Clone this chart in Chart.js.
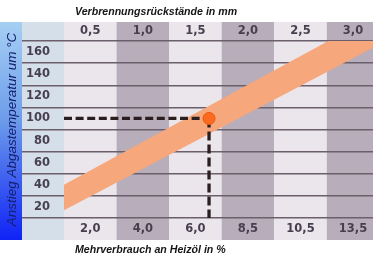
<!DOCTYPE html>
<html>
<head>
<meta charset="utf-8">
<script src="https://cdn.jsdelivr.net/npm/chart.js@4.4.1/dist/chart.umd.min.js"></script>
<style>
  html, body { margin: 0; padding: 0; background: #fff; }
  .div__grafico { width: 373px; height: 264px; }
</style>
</head>
<body>
<div class="div__grafico"><canvas id="grafico"></canvas></div>
<script>
// Spalten (oben: Rückstände in mm, unten: Mehrverbrauch in %)
const rueckstaende = ['0,5', '1,0', '1,5', '2,0', '2,5', '3,0']
const mehrverbrauch = ['2,0', '4,0', '6,0', '8,5', '10,5', '13,5']

// y-Achse: beschriftete Werte und Rasterlinien dazwischen
const temperaturTicks = [20, 40, 60, 80, 100, 120, 140, 160]
const rasterLinien = [10, 30, 50, 70, 90, 110, 130, 150, 170]

// Band: x = Spaltenposition (-0.5 = linker Rand der ersten Spalte)
const bandX = [-0.5, 5.38]
const bandOben = [40, 192]
const bandUnten = [17, 164]

const punktX = [2.26]
const punktY = [100]
const grundlinie = [10]

const farbeText = '#473f4f'
const farbeRaster = '#6a5f6a'
const fontTicks = { family: 'DejaVu Sans', weight: 'bold', size: 11.5 }

const hintergrund = {
  id: 'hintergrund',
  beforeDraw(chart) {
    const { ctx, chartArea, scales } = chart
    const top = chartArea.top - 19
    const bottom = chartArea.bottom + 22
    ctx.save()
    rueckstaende.forEach((_, i) => {
      const l = scales.x.getPixelForValue(i - 0.5)
      const r = Math.min(scales.x.getPixelForValue(i + 0.5), chart.width)
      ctx.fillStyle = i % 2 ? '#b8adba' : '#ebe6ec'
      ctx.fillRect(l, top, r - l, bottom - top)
    })
    ctx.fillStyle = '#d4dfea'
    ctx.fillRect(22, top, chartArea.left - 22, bottom - top)

    const grad = ctx.createLinearGradient(0, top, 0, bottom)
    grad.addColorStop(0, '#a6cff4')
    grad.addColorStop(0.45, '#6d9cea')
    grad.addColorStop(1, '#0f22f6')
    ctx.fillStyle = grad
    ctx.fillRect(0, top, 22, bottom - top)
    ctx.restore()
  },
  afterDraw(chart) {
    const { ctx, chartArea } = chart
    ctx.save()
    ctx.fillStyle = '#151515'
    ctx.font = 'italic bold 10.6px "Liberation Sans"'
    ctx.textAlign = 'left'
    ctx.textBaseline = 'middle'
    ctx.fillText('Verbrennungsrückstände in mm', chartArea.left + 11, 12.5)
    ctx.fillText('Mehrverbrauch an Heizöl in %', chartArea.left + 11, chartArea.bottom + 32)
    ctx.restore()
  }
}

const punkte = (xs, ys) => xs.map((x, i) => ({ x: x, y: ys[i] }))

const $ctx = document.getElementById('grafico')

new Chart($ctx, {
  type: 'line',
  data: {
    datasets: [
      {
        label: 'Punkt',
        data: punkte(punktX, punktY),
        showLine: false,
        pointRadius: 6,
        pointBackgroundColor: '#fb6a1e',
        pointBorderColor: '#ec5a14',
        pointBorderWidth: 1,
        order: 0
      },
      {
        label: 'waagrecht',
        data: punkte([bandX[0], punktX[0]], [punktY[0], punktY[0]]),
        borderColor: '#2b1e1e',
        borderWidth: 3.3,
        borderDash: [8, 3.6],
        pointRadius: 0,
        order: 1
      },
      {
        label: 'senkrecht',
        data: punkte([punktX[0], punktX[0]], [punktY[0], grundlinie[0]]),
        borderColor: '#2b1e1e',
        borderWidth: 3.3,
        borderDash: [9, 4],
        pointRadius: 0,
        order: 1
      },
      {
        label: 'Band oben',
        data: punkte(bandX, bandOben),
        borderWidth: 0,
        borderColor: 'rgba(0,0,0,0)',
        pointRadius: 0,
        backgroundColor: '#f6a77b',
        fill: '+1',
        order: 2
      },
      {
        label: 'Band unten',
        data: punkte(bandX, bandUnten),
        borderWidth: 0,
        borderColor: 'rgba(0,0,0,0)',
        pointRadius: 0,
        fill: false,
        order: 3
      }
    ]
  },
  options: {
    responsive: true,
    maintainAspectRatio: false,
    animation: false,
    layout: { padding: 0, autoPadding: false },
    plugins: {
      legend: { display: false },
      tooltip: { enabled: false }
    },
    scales: {
      x: {
        type: 'linear',
        position: 'bottom',
        min: bandX[0],
        max: bandX[1],
        afterBuildTicks: s => { s.ticks = mehrverbrauch.map((_, i) => ({ value: i })) },
        ticks: {
          callback: v => mehrverbrauch[v],
          color: farbeText,
          font: fontTicks,
          padding: 4,
          maxRotation: 0,
          autoSkip: false
        },
        grid: { display: false, drawTicks: false },
        border: { display: false },
        afterFit: s => { s.height = 46 }
      },
      x2: {
        type: 'linear',
        position: 'top',
        min: bandX[0],
        max: bandX[1],
        afterBuildTicks: s => { s.ticks = rueckstaende.map((_, i) => ({ value: i })) },
        ticks: {
          callback: v => rueckstaende[v],
          color: farbeText,
          font: fontTicks,
          padding: 3,
          maxRotation: 0,
          autoSkip: false
        },
        grid: { display: false, drawTicks: false },
        border: { display: false },
        afterFit: s => { s.height = 41 }
      },
      y: {
        type: 'linear',
        min: 10,
        max: 170,
        afterBuildTicks: s => {
          s.ticks = rasterLinien.concat(temperaturTicks).sort((a, b) => a - b).map(v => ({ value: v }))
        },
        ticks: {
          callback: v => temperaturTicks.includes(v) ? String(v) : '',
          color: farbeText,
          font: fontTicks,
          padding: -28,
          autoSkip: false
        },
        grid: {
          color: c => rasterLinien.includes(c.tick.value) ? farbeRaster : 'rgba(0,0,0,0)',
          lineWidth: 1.5,
          drawTicks: true,
          tickLength: 42
        },
        border: { display: false },
        title: {
          display: true,
          text: 'Anstieg Abgastemperatur um °C',
          color: '#14206e',
          font: { family: 'Liberation Sans', style: 'italic', size: 13.5 },
          padding: { top: 4, bottom: 0 }
        },
        afterFit: s => { s.width = 64 }
      }
    }
  },
  plugins: [hintergrund]
})
</script>
</body>
</html>
